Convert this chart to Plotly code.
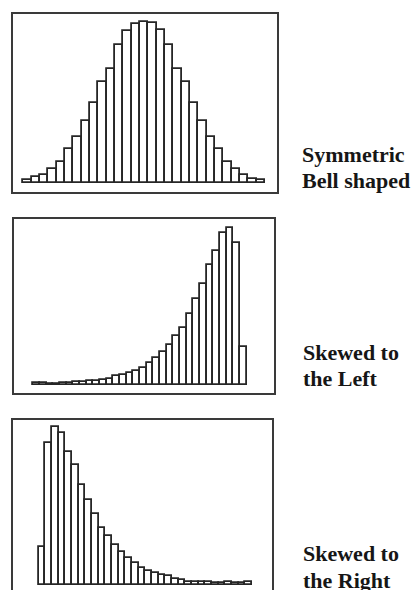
# Three histogram shapes: symmetric, skewed left, skewed right

import plotly.graph_objects as go

# bar heights (pixels above each baseline)
symmetric_counts = [3, 6, 8, 14, 21, 34, 46, 62, 80, 101, 114, 138, 152, 159, 161,
                    160, 153, 138, 114, 101, 80, 62, 46, 34, 21, 14, 8, 4, 3]
left_skew_counts = [1.5, 1.5, 1, 1.2, 1.5, 2, 2.3, 2.7, 3.3, 3.3, 5, 5.7, 9, 10, 12, 14,
                    17, 22, 27, 33, 40, 49, 57, 71, 86, 101, 120, 134, 152, 157, 142, 38]
right_skew_counts = [38, 142, 158, 152, 133, 120, 100, 85, 71, 57, 49, 40, 33, 27, 22, 17,
                     14, 12, 10, 9, 5.7, 5, 3.3, 3, 2.7, 2.7, 2.3, 2.3, 2.7, 1.7, 2.3, 3]

symmetric_label = ["Symmetric", "Bell shaped"]
left_label = ["Skewed to", "the Left"]
right_label = ["Skewed to", "the Right"]


if __name__ == "__main__":
    W, H = 414, 590
    frame_color = "#3a3a3a"
    bar_edge = "#262626"
    label_font = dict(family="Liberation Serif", size=22, color="#161616")

    panels = [
        # counts, x domain px, y domain px (top, bottom), x range, y range
        (symmetric_counts, (13, 277), (14, 192), [-1.74, 29.96], [-9.3, 168.7]),
        (left_skew_counts, (14, 274), (219, 393), [-3.39, 35.6], [-8.3, 165.7]),
        (right_skew_counts, (13, 272), (420, 590), [-4.35, 34.48], [-5, 165]),
    ]

    fig = go.Figure()
    layout = {}
    for i, (counts, dx, dy, rx, ry) in enumerate(panels, start=1):
        sfx = "" if i == 1 else str(i)
        fig.add_trace(
            go.Bar(
                x=list(range(len(counts))),
                y=counts,
                xaxis="x" + sfx,
                yaxis="y" + sfx,
                marker=dict(color="white", line=dict(color=bar_edge, width=1.8)),
                showlegend=False,
            )
        )
        last = i == 3  # bottom frame runs off the page
        layout["xaxis" + sfx] = dict(
            domain=[dx[0] / W, dx[1] / W],
            range=rx,
            anchor="y" + sfx,
            showline=True,
            mirror=not last,
            side="top" if last else "bottom",
            linecolor=frame_color,
            linewidth=2,
            showgrid=False,
            zeroline=False,
            showticklabels=False,
            ticks="",
            fixedrange=True,
        )
        layout["yaxis" + sfx] = dict(
            domain=[1 - dy[1] / H, 1 - dy[0] / H],
            range=ry,
            anchor="x" + sfx,
            showline=True,
            mirror=True,
            linecolor=frame_color,
            linewidth=2,
            showgrid=False,
            zeroline=False,
            showticklabels=False,
            ticks="",
            fixedrange=True,
        )

    annotations = []
    label_pos = [(symmetric_label, 300, (155, 181)),
                 (left_label, 301, (352, 378)),
                 (right_label, 301, (553, 580))]
    for lines, px, pys in label_pos:
        for text, py in zip(lines, pys):
            annotations.append(dict(
                text="<b>" + text + "</b>",
                xref="paper", yref="paper",
                x=px / W, y=1 - py / H,
                xanchor="left", yanchor="middle",
                showarrow=False,
                font=label_font,
            ))

    fig.update_layout(
        **layout,
        annotations=annotations,
        width=W,
        height=H,
        margin=dict(l=0, r=0, t=0, b=0),
        bargap=0,
        paper_bgcolor="white",
        plot_bgcolor="white",
    )

    # drop the default 8px page margin so the figure fills the window
    fig.write_html(
        "out.html",
        config={"displayModeBar": False},
        post_script="document.body.style.margin = '0';",
    )
